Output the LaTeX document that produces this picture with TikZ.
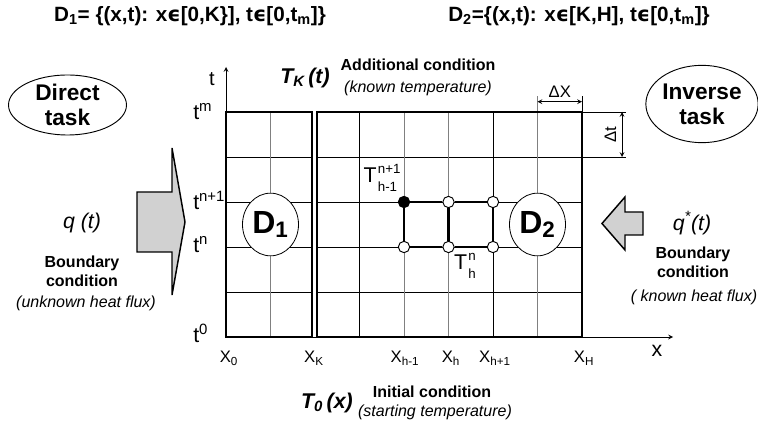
\documentclass[tikz,border=0pt]{standalone}
\usepackage{fontspec}
\setmainfont{Liberation Sans}
\newfontfamily\symfont{DejaVu Sans}
\usetikzlibrary{shapes.geometric}
\newcommand{\supsub}[3]{#1\hspace{1pt}{\fontsize{10}{11.5}\selectfont\begin{tabular}[c]{@{}l@{}}#2\\[2pt]#3\end{tabular}}}
\begin{document}
\begin{tikzpicture}[x=0.75pt, y=0.75pt, yscale=-1, >=stealth,
  thickframe/.style={line width=2.2pt},
  gridline/.style={line width=0.6pt},
  greyline/.style={line width=0.6pt, black!50},
  taskbox/.style={draw, ellipse, line width=0.7pt, align=center, inner sep=0pt,
    font=\fontsize{17}{19}\selectfont\bfseries},
  dombox/.style={draw, ellipse, fill=white, line width=0.6pt, minimum width=42pt,
    minimum height=47pt, inner sep=0pt, font=\fontsize{24}{26}\selectfont\bfseries},
  knot/.style={draw, circle, fill=white, line width=0.7pt, minimum size=8.5pt, inner sep=0pt},
  stencil/.style={line width=2.2pt},
  flux/.style={draw, line width=1.1pt, fill=black!18, line join=miter},
  titletext/.style={font=\fontsize{15.5}{17}\selectfont\bfseries},
  cond/.style={font=\fontsize{12}{14.25}\selectfont\bfseries, align=center},
  note/.style={font=\fontsize{12}{14}\selectfont\itshape},
  func/.style={font=\fontsize{16}{18}\selectfont\bfseries\itshape},
  flow/.style={font=\fontsize{16}{18}\selectfont\itshape},
  tlabel/.style={font=\fontsize{16}{18}\selectfont, anchor=base west, inner sep=0pt},
  xlabel/.style={font=\fontsize{12.5}{14}\selectfont, anchor=base, inner sep=0pt},
  nodelabel/.style={font=\fontsize{16}{18}\selectfont, inner sep=0pt},
  dimtext/.style={font=\fontsize{12.5}{14}\selectfont, inner sep=1pt}]
\useasboundingbox (0,0) rectangle (758,424);
\node[titletext] (d1set) at (190,16) {D\textsubscript{1}= \{(x,t): x{\symfont ϵ}[0,K\}], t{\symfont ϵ}[0,t\textsubscript{m}]\}};
\node[titletext] (d2set) at (579,16) {D\textsubscript{2}=\{(x,t): x{\symfont ϵ}[K,H], t{\symfont ϵ}[0,t\textsubscript{m}]\}};
\node[taskbox, minimum width=88.5pt, minimum height=45pt] (direct) at (67.5,105) {Direct\\task};
\node[taskbox, minimum width=84pt, minimum height=58pt] (inverse) at (702,104) {Inverse\\task};
\foreach \y in {157,202,247,292} {
  \draw[gridline] (226,\y) -- (312,\y);
  \draw[gridline] (317,\y) -- (582,\y);
}
\foreach \x in {270.5,404,448.5,537.5}
  \draw[greyline] (\x,112) -- (\x,337);
\foreach \x in {359.5,493}
  \draw[gridline] (\x,112) -- (\x,337);
\draw[greyline] (537.5,112) -- (537.5,96);
\draw[gridline] (582,112) -- (582,96);
\draw[gridline] (582,112) -- (626,112);
\draw[gridline] (582,157) -- (626,157);
\coordinate (orig) at (226,337);
\coordinate (ttip) at (226,67);
\coordinate (xtip) at (673,337);
\draw[gridline, ->] (orig) -- (ttip);
\draw[gridline, ->] (orig) -- (xtip);
\draw[thickframe] (226,112) rectangle (312,337);
\draw[thickframe] (317,112) rectangle (582,337);
\coordinate (dxl) at (537.5,101.7);
\coordinate (dxr) at (582,101.7);
\draw[gridline, <->] (dxl) -- node[dimtext, above=2pt] (dx) {ΔX} (dxr);
\coordinate (dtt) at (622,112);
\coordinate (dtb) at (622,157);
\draw[gridline, <->] (dtt) -- node[dimtext, rotate=90, above=3pt, anchor=south] (dt) {Δt} (dtb);
\node[knot, fill=black] (k1) at (404,202) {};
\node[knot] (k2) at (448.5,202) {};
\node[knot] (k3) at (493,202) {};
\node[knot] (k4) at (404,247) {};
\node[knot] (k5) at (448.5,247) {};
\node[knot] (k6) at (493,247) {};
\draw[stencil] (k1) -- (k2);
\draw[stencil] (k2) -- (k3);
\draw[stencil] (k4) -- (k5);
\draw[stencil] (k5) -- (k6);
\draw[stencil] (k1) -- (k4);
\draw[stencil] (k2) -- (k5);
\draw[stencil] (k3) -- (k6);
\node[nodelabel] (tprev) at (382,179) {\supsub{T}{n+1}{h-1}};
\node[nodelabel] (tcur) at (465,266) {\supsub{T}{n}{h}};
\node[dombox] (dom1) at (270.5,224.5) {D\textsubscript{1}};
\node[dombox] (dom2) at (537.5,224.5) {D\textsubscript{2}};
\node[font=\fontsize{15}{17}\selectfont] (taxis) at (212,79) {t};
\node[font=\fontsize{16}{18}\selectfont] (xaxis) at (657,351) {x};
\node[tlabel] (tm) at (193,120) {t\textsuperscript{m}};
\node[tlabel] (tn1) at (193,210) {t\textsuperscript{n+1}};
\node[tlabel] (tn) at (193,253) {t\textsuperscript{n}};
\node[tlabel] (t0) at (193,343) {t\textsuperscript{0}};
\node[xlabel] (x0) at (229,363) {X\textsubscript{0}};
\node[xlabel] (xk) at (314,363) {X\textsubscript{K}};
\node[xlabel] (xhm) at (405,363) {X\textsubscript{h-1}};
\node[xlabel] (xh) at (451,363) {X\textsubscript{h}};
\node[xlabel] (xhp) at (495,363) {X\textsubscript{h+1}};
\node[xlabel] (xH) at (584,363) {X\textsubscript{H}};
\node[func] (tk) at (305,78) {T\textsubscript{K}\,(t)};
\node[cond] (addc) at (418,65) {Additional condition};
\node[note] (addn) at (418,88) {(known temperature)};
\node[func] (t0x) at (327,403) {T\textsubscript{0}\,(x)};
\node[cond] (initc) at (432,392) {Initial condition};
\node[note] (initn) at (435,412) {(starting temperature)};
\draw[flux] (137,192) -- (172,192) -- (172,148) -- (185,222) -- (172,295) -- (172,252) -- (137,252) -- cycle;
\draw[flux] (643,212) -- (625,212) -- (625,197) -- (602,223.5) -- (625,250) -- (625,235) -- (643,235) -- cycle;
\node[flow] (q) at (82,223) {q (t)};
\node[cond] (bcl) at (82,271) {Boundary\\condition};
\node[note] (bcln) at (86,303) {(unknown heat flux)};
\node[flow] (qs) at (692,223) {q\textsuperscript{*}(t)};
\node[cond] (bcr) at (693,262.5) {Boundary\\condition};
\node[note] (bcrn) at (694,297) {( known heat flux)};
\end{tikzpicture}
\end{document}
